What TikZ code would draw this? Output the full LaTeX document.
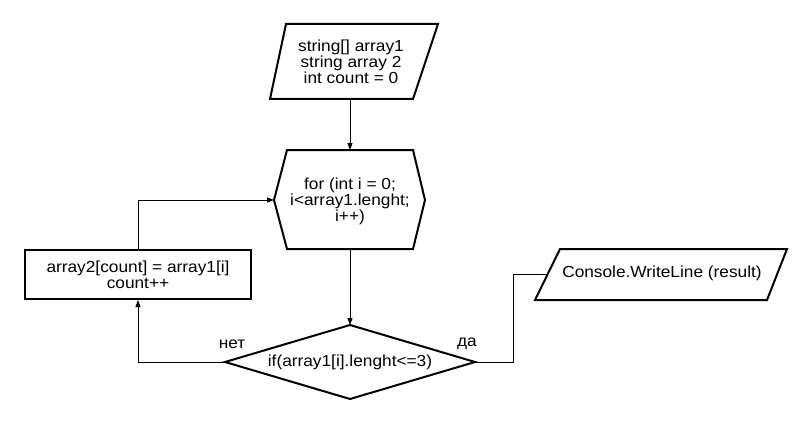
\documentclass[tikz,border=0pt]{standalone}
\usepackage{fontspec}
\setmainfont{Liberation Sans}[FakeStretch=1.08]
\usetikzlibrary{arrows.meta}
\begin{document}
\begin{tikzpicture}[x=1pt,y=-1pt,
  shp/.style={draw, line width=2pt, line join=miter},
  txt/.style={align=center, font=\fontsize{16}{16}\selectfont, inner sep=0pt},
  conn/.style={line width=1pt},
  arr/.style={conn, -{Triangle[length=7pt,width=5pt]}}]
\useasboundingbox (0,0) rectangle (800,425);
% input parallelogram
\draw[shp] (286,24) -- (438,24) -- (413,99) -- (270,99) -- cycle;
\node[txt] (in) at (351,62) {string[] array1\\string array 2\\int count = 0};
\coordinate (inS) at (350,99);
% loop hexagon
\draw[shp] (287,150) -- (413,150) -- (425,200) -- (413,249) -- (287,249) -- (274,200) -- cycle;
\node[txt] (for) at (350,201) {for (int i = 0;\\i<array1.lenght;\\i++)};
\coordinate (forN) at (350,150);
\coordinate (forW) at (274,200);
\coordinate (forS) at (350,249);
% body rectangle
\node[shp, minimum width=226pt, minimum height=49pt, txt, draw] (body) at (138,274.5) {array2[count] = array1[i]\\count++};
% decision diamond
\draw[shp] (350,325) -- (475,362) -- (350,399) -- (225,362) -- cycle;
\node[txt] (dec) at (350,362) {if(array1[i].lenght<=3)};
\coordinate (decN) at (350,325);
\coordinate (decW) at (225,362);
\coordinate (decE) at (475,362);
% output parallelogram
\draw[shp] (560,249) -- (787,249) -- (767,300) -- (535,300) -- cycle;
\node[txt] (out) at (662,273.5) {Console.WriteLine (result)};
\coordinate (outW) at (547.5,274.5);
% labels
\node[txt] (no) at (232,344) {нет};
\node[txt] (yes) at (467,344) {да};
% connectors
\draw[arr] (inS) -- (forN);
\draw[arr] (forS) -- (decN);
\draw[arr] (decW) -| (body.south);
\draw[arr] (body.north) |- (forW);
\draw[conn] (decE) -- ++(38,0) |- (outW);
\end{tikzpicture}
\end{document}
